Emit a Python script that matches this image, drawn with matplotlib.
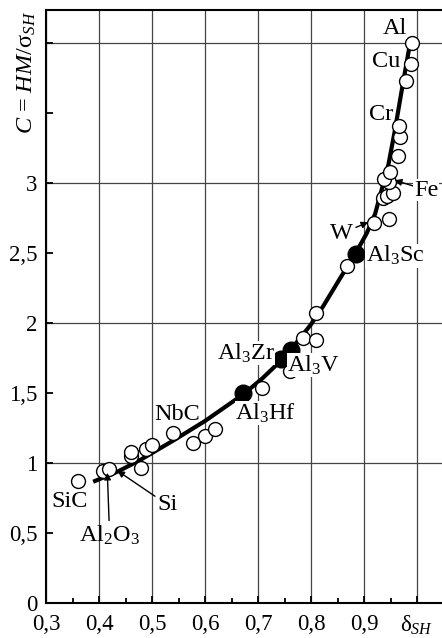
import numpy as np
import matplotlib
matplotlib.use("Agg")
import matplotlib.pyplot as plt
from matplotlib.ticker import MultipleLocator, FixedLocator, FixedFormatter

plt.rcParams['font.family'] = ['Liberation Serif', 'DejaVu Serif']
plt.rcParams['mathtext.fontset'] = 'custom'
plt.rcParams['mathtext.rm'] = 'Liberation Serif'
plt.rcParams['mathtext.it'] = 'Liberation Serif:italic'
plt.rcParams['font.size'] = 16

# open circles (delta_SH, C)
open_x = [0.36, 0.408, 0.418, 0.479, 0.46, 0.46, 0.488, 0.50, 0.539, 0.578, 0.60, 0.619,
          0.707, 0.76, 0.784, 0.809, 0.809, 0.867, 0.919, 0.947,
          0.936, 0.944, 0.955, 0.948, 0.938, 0.949, 0.965, 0.968, 0.966,
          0.979, 0.989, 0.99]
open_y = [0.871, 0.943, 0.957, 0.966, 1.05, 1.08, 1.10, 1.13, 1.217, 1.14, 1.19, 1.243,
          1.538, 1.66, 1.895, 1.879, 2.07, 2.41, 2.717, 2.74,
          2.89, 2.91, 2.93, 3.01, 3.03, 3.08, 3.19, 3.33, 3.407,
          3.73, 3.85, 4.0]

# filled circles: Al3Hf, Al3Zr, Al3V, Al3Sc
solid_x = [0.672, 0.743, 0.762, 0.884]
solid_y = [1.50, 1.74, 1.81, 2.49]

# fitted curve
curve_x = [0.389, 0.436, 0.477, 0.54, 0.60, 0.672, 0.707, 0.743, 0.762, 0.80, 0.823,
           0.855, 0.883, 0.905, 0.921, 0.936, 0.946, 0.958, 0.972, 0.987]
curve_y = [0.866, 0.94, 1.02, 1.16, 1.30, 1.49, 1.60, 1.73, 1.81, 1.99, 2.12,
           2.32, 2.49, 2.64, 2.78, 2.99, 3.13, 3.37, 3.68, 4.0]

xticks = [0.3, 0.4, 0.5, 0.6, 0.7, 0.8, 0.9, 1.0]
xlabels = ['0,3', '0,4', '0,5', '0,6', '0,7', '0,8', '0,9', r'$\mathrm{\delta}_{SH}$']
yticks_major = [0, 1, 2, 3, 4]
ylabels_major = ['0', '1', '2', '3', '']
yticks_minor = [0.5, 1.5, 2.5, 3.5]
ylabels_minor = ['0,5', '1,5', '2,5', '']

fig = plt.figure(figsize=(4.42, 6.38), dpi=100)
ax = fig.add_axes([46 / 442, 35 / 638, 396 / 442, 593 / 638])

ax.plot(curve_x, curve_y, color='black', lw=3.0, solid_capstyle='butt',
        solid_joinstyle='round', zorder=3)
ax.plot(open_x, open_y, 'o', ms=10, mfc='white', mec='black', mew=1.0, zorder=4)
ax.plot(solid_x, solid_y, 'o', ms=12, mfc='black', mec='black', zorder=5)

ax.set_xlim(0.3, 0.3 + 396 / 530)
ax.set_ylim(0, 593 / 140)

ax.xaxis.set_major_locator(FixedLocator(xticks))
ax.xaxis.set_major_formatter(FixedFormatter(xlabels))
ax.xaxis.set_minor_locator(MultipleLocator(0.05))
ax.yaxis.set_major_locator(FixedLocator(yticks_major))
ax.yaxis.set_major_formatter(FixedFormatter(ylabels_major))
ax.yaxis.set_minor_locator(FixedLocator(yticks_minor))
ax.yaxis.set_minor_formatter(FixedFormatter(ylabels_minor))

ax.tick_params(which='both', direction='in', width=1.3, labelsize=16.5, pad=6)
ax.tick_params(axis='x', which='both', pad=8)
ax.tick_params(which='major', length=5)
ax.tick_params(which='minor', length=3.5)
ax.tick_params(axis='y', which='minor', length=5)
ax.grid(which='major', color='#444444', lw=0.9, zorder=0)
ax.set_axisbelow(True)

for s in ['left', 'bottom', 'top']:
    ax.spines[s].set_linewidth(1.5)
ax.spines['right'].set_visible(False)

ax.text(-0.048, 0.895, r'$C$ = $HM$/$\mathrm{\sigma}_{SH}$', transform=ax.transAxes,
        rotation=90, ha='center', va='center', fontsize=17.5)

fs = 17.5
box = dict(facecolor='white', edgecolor='none', pad=0.3)
boxed = [
    ('Al', 0.958, 4.107),
    ('Al$_3$Zr', 0.677, 1.785),
    ('Al$_3$V', 0.805, 1.70),
    ('Al$_3$Hf', 0.715, 1.355),
]
plain = [
    ('Cu', 0.941, 3.87),
    ('Cr', 0.933, 3.486),
    ('NbC', 0.547, 1.343),
    ('SiC', 0.345, 0.724),
]
for txt, x, y in boxed:
    ax.text(x, y, txt, ha='center', va='center', fontsize=fs, bbox=box, zorder=6)
for txt, x, y in plain:
    ax.text(x, y, txt, ha='center', va='center', fontsize=fs, zorder=6)
ax.text(0.903, 2.48, 'Al$_3$Sc', ha='left', va='center', fontsize=fs, bbox=box, zorder=6)

arrow = dict(arrowstyle='-|>', color='black', lw=1.0, mutation_scale=10, shrinkA=0, shrinkB=0)
ax.annotate('Fe', xy=(0.958, 3.02), xytext=(1.017, 2.95), ha='center', va='center',
            fontsize=fs, arrowprops=arrow, bbox=box, zorder=6)
ax.annotate('W', xy=(0.908, 2.72), xytext=(0.858, 2.64), ha='center', va='center',
            fontsize=fs, arrowprops=arrow, zorder=6)
ax.annotate('Si', xy=(0.4346, 0.945), xytext=(0.530, 0.70), ha='center', va='center',
            fontsize=fs, arrowprops=arrow, zorder=6)
ax.annotate('Al$_2$O$_3$', xy=(0.4157, 0.93), xytext=(0.42, 0.486), ha='center', va='center',
            fontsize=fs, arrowprops=arrow, zorder=6)

fig.savefig('out.png', dpi=100)
